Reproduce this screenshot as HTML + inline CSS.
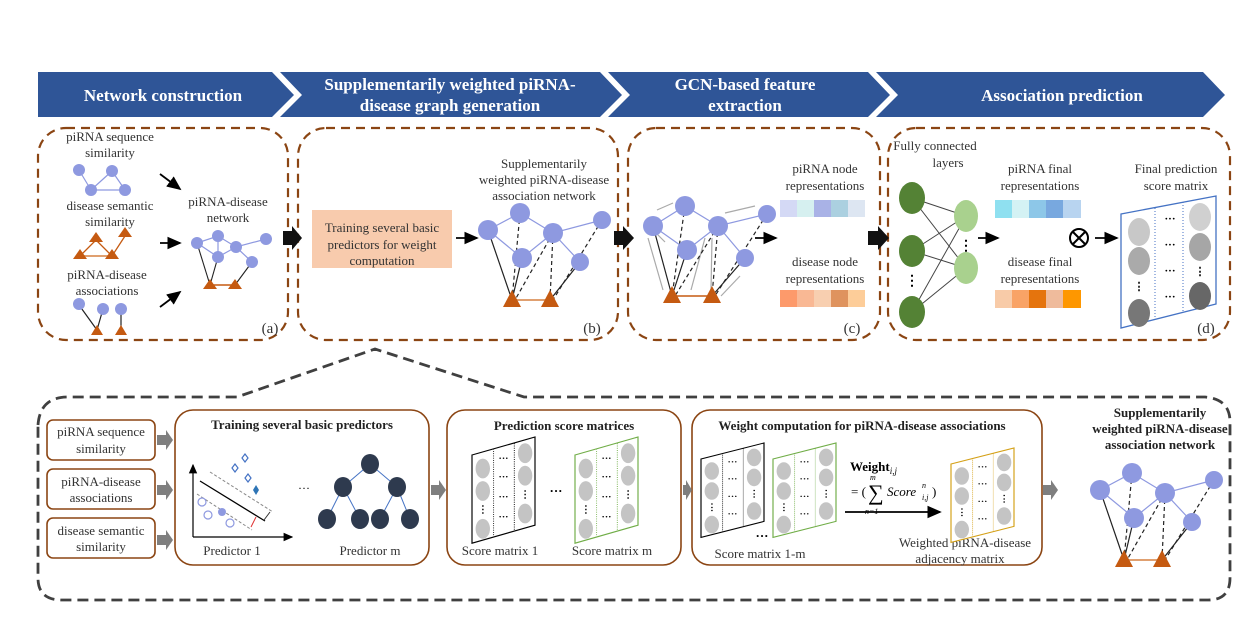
<!DOCTYPE html><html><head><meta charset="utf-8"><style>body{margin:0;background:#fff}svg{display:block}text{font-family:"Liberation Serif",serif}</style></head><body>
<svg width="1250" height="625" viewBox="0 0 1250 625" xmlns="http://www.w3.org/2000/svg">
<defs>
<marker id="ah" markerWidth="8" markerHeight="8" refX="7" refY="4" orient="auto"><path d="M0,0.5 L8,4 L0,7.5z" fill="#000"/></marker>
<g id="mat">
<polygon points="0,20 70,0 70,98 0,118" fill="#fff" stroke="currentColor" stroke-width="1.3"/>
<g stroke="currentColor" stroke-dasharray="1,1.5"><line x1="24" y1="13" x2="24" y2="111"/><line x1="47" y1="7" x2="47" y2="105"/></g>
<g fill="#c4c4c4"><ellipse cx="12" cy="35" rx="8" ry="11"/><ellipse cx="12" cy="60" rx="8" ry="11"/><ellipse cx="12" cy="102" rx="8" ry="11"/><ellipse cx="59" cy="18" rx="8" ry="11"/><ellipse cx="59" cy="43" rx="8" ry="11"/><ellipse cx="59" cy="85" rx="8" ry="11"/></g>
<g font-size="11" font-weight="bold" fill="#000" text-anchor="middle"><text x="12" y="84">⋮</text><text x="59" y="67">⋮</text><text x="35" y="27">···</text><text x="35" y="48">···</text><text x="35" y="70">···</text><text x="35" y="92">···</text></g>
</g>
<g id="net">
<g stroke="#8e99e0" stroke-width="1.2" fill="none"><polyline points="488,230 520,213 553,233 602,220"/><line x1="488" y1="230" x2="522" y2="258"/><line x1="522" y1="258" x2="553" y2="233"/><line x1="553" y1="233" x2="580" y2="262"/></g>
<g stroke="#222" stroke-width="1.2"><line x1="488" y1="230" x2="512" y2="300"/><line x1="522" y1="258" x2="512" y2="300"/><line x1="580" y1="262" x2="550" y2="300"/></g>
<g stroke="#222" stroke-width="1.2" stroke-dasharray="4,3"><line x1="520" y1="213" x2="512" y2="300"/><line x1="553" y1="233" x2="515" y2="300"/><line x1="553" y1="233" x2="550" y2="300"/><line x1="602" y1="220" x2="553" y2="300"/></g>
<line x1="512" y1="300" x2="550" y2="300" stroke="#e0a070" stroke-width="2"/>
<g fill="#8e99e0"><circle cx="488" cy="230" r="10"/><circle cx="520" cy="213" r="10"/><circle cx="553" cy="233" r="10"/><circle cx="602" cy="220" r="9"/><circle cx="522" cy="258" r="10"/><circle cx="580" cy="262" r="9"/></g>
<g fill="#c55a11"><polygon points="512,290 503,307 521,307"/><polygon points="550,290 541,307 559,307"/></g>
</g>
</defs>
<g fill="#2F5597">
<polygon points="38,72 272,72 294,95 272,117 38,117"/>
<polygon points="280,72 600,72 622,95 600,117 280,117 302,95"/>
<polygon points="608,72 868,72 890,95 868,117 608,117 630,95"/>
<polygon points="876,72 1203,72 1225,95 1203,117 876,117 898,95"/>
</g>
<g fill="#fff" font-weight="bold" font-size="17" text-anchor="middle">
<text x="163" y="101">Network construction</text>
<text x="450" y="90">Supplementarily weighted piRNA-</text>
<text x="450" y="111">disease graph generation</text>
<text x="745" y="90">GCN-based feature</text>
<text x="745" y="111">extraction</text>
<text x="1062" y="101">Association prediction</text>
</g>
<g fill="none" stroke="#8B4513" stroke-width="2.2" stroke-dasharray="9,6">
<rect x="38" y="128" width="250" height="212" rx="28"/>
<rect x="298" y="128" width="320" height="212" rx="28"/>
<rect x="628" y="128" width="252" height="212" rx="28"/>
<rect x="888" y="128" width="342" height="212" rx="28"/>
</g>
<g font-size="13" fill="#333" text-anchor="middle">
<text x="110" y="141">piRNA sequence</text><text x="110" y="157">similarity</text>
<text x="110" y="210">disease semantic</text><text x="110" y="226">similarity</text>
<text x="107" y="279">piRNA-disease</text><text x="107" y="295">associations</text>
<text x="228" y="206">piRNA-disease</text><text x="228" y="222">network</text>
<text x="544" y="168">Supplementarily</text><text x="544" y="184">weighted piRNA-disease</text><text x="544" y="200">association network</text>
<text x="825" y="173">piRNA node</text><text x="825" y="190">representations</text>
<text x="825" y="266">disease node</text><text x="825" y="283">representations</text>
<text x="935" y="150">Fully connected</text><text x="948" y="167">layers</text>
<text x="1040" y="173">piRNA final</text><text x="1040" y="190">representations</text>
<text x="1040" y="266">disease final</text><text x="1040" y="283">representations</text>
<text x="1176" y="173">Final prediction</text><text x="1176" y="190">score matrix</text>
<text x="270" y="333" font-size="15">(a)</text><text x="592" y="333" font-size="15">(b)</text>
<text x="852" y="333" font-size="15">(c)</text><text x="1206" y="333" font-size="15">(d)</text>
</g>
<g stroke="#8e99e0" stroke-width="1.2"><line x1="79" y1="170" x2="91" y2="190"/><line x1="91" y1="190" x2="125" y2="190"/><line x1="91" y1="190" x2="112" y2="171"/><line x1="112" y1="171" x2="125" y2="190"/></g>
<g fill="#8e99e0"><circle cx="79" cy="170" r="6"/><circle cx="112" cy="171" r="6"/><circle cx="91" cy="190" r="6"/><circle cx="125" cy="190" r="6"/></g>
<g stroke="#c55a11" stroke-width="1.3"><line x1="80" y1="256" x2="96" y2="240"/><line x1="96" y1="240" x2="112" y2="256"/><line x1="112" y1="256" x2="125" y2="236"/><line x1="80" y1="256" x2="112" y2="256" stroke="#e0a070" stroke-width="2"/></g>
<g fill="#c55a11"><polygon points="96,232 89,242 103,242"/><polygon points="125,227 118,237 132,237"/><polygon points="80,249 73,259 87,259"/><polygon points="112,249 105,259 119,259"/></g>
<g stroke="#222" stroke-width="1.2"><line x1="79" y1="305" x2="97" y2="330"/><line x1="103" y1="309" x2="97" y2="330"/><line x1="121" y1="309" x2="121" y2="330"/></g>
<g fill="#8e99e0"><circle cx="79" cy="304" r="6"/><circle cx="103" cy="309" r="6"/><circle cx="121" cy="309" r="6"/></g>
<g fill="#c55a11"><polygon points="97,325 91,335 103,335"/><polygon points="121,325 115,335 127,335"/></g>
<g stroke="#000" stroke-width="1.8" marker-end="url(#ah)"><line x1="160" y1="174" x2="180" y2="189"/><line x1="160" y1="243" x2="180" y2="243"/><line x1="160" y1="307" x2="180" y2="292"/></g>
<g stroke="#8e99e0" stroke-width="1.2" fill="none"><polyline points="197,243 218,236 236,247 266,239"/><line x1="218" y1="236" x2="218" y2="257"/><line x1="218" y1="257" x2="236" y2="247"/><line x1="236" y1="247" x2="252" y2="262"/><line x1="197" y1="243" x2="218" y2="257"/></g>
<g stroke="#222" stroke-width="1.1"><line x1="197" y1="243" x2="210" y2="285"/><line x1="218" y1="257" x2="210" y2="285"/><line x1="252" y1="262" x2="235" y2="285"/></g>
<line x1="210" y1="285" x2="235" y2="285" stroke="#c55a11" stroke-width="1.5"/>
<g fill="#8e99e0"><circle cx="197" cy="243" r="6"/><circle cx="218" cy="236" r="6"/><circle cx="236" cy="247" r="6"/><circle cx="266" cy="239" r="6"/><circle cx="218" cy="257" r="6"/><circle cx="252" cy="262" r="6"/></g>
<g fill="#c55a11"><polygon points="210,279 203,289 217,289"/><polygon points="235,279 228,289 242,289"/></g>
<g fill="#111"><polygon points="283,231 292,231 292,226 302,238 292,250 292,245 283,245"/><polygon points="614,231 623,231 623,226 634,238 623,250 623,245 614,245"/><polygon points="868,231 878,231 878,226 889,238 878,250 878,245 868,245"/></g>
<rect x="312" y="210" width="140" height="58" fill="#F8CBAD"/>
<g font-size="13" fill="#333" text-anchor="middle"><text x="382" y="232">Training several basic</text><text x="382" y="249">predictors for weight</text><text x="382" y="265">computation</text></g>
<line x1="456" y1="238" x2="477" y2="238" stroke="#000" stroke-width="1.8" marker-end="url(#ah)"/>
<use href="#net"/>
<g transform="translate(165,-2)">
<g stroke="#8e99e0" stroke-width="1.2" fill="none"><polyline points="488,228 520,208 553,228 602,216"/><line x1="488" y1="228" x2="522" y2="252"/><line x1="522" y1="252" x2="553" y2="228"/><line x1="553" y1="228" x2="580" y2="260"/></g>
<g stroke="#aaa" stroke-width="1.2"><line x1="483" y1="240" x2="498" y2="292"/><line x1="540" y1="240" x2="526" y2="292"/><line x1="547" y1="240" x2="546" y2="292"/><line x1="575" y1="278" x2="556" y2="298"/><line x1="508" y1="205" x2="492" y2="212"/><line x1="590" y1="208" x2="560" y2="215"/><line x1="500" y1="244" x2="492" y2="236"/></g>
<g stroke="#222" stroke-width="1.2"><line x1="488" y1="228" x2="507" y2="298"/><line x1="522" y1="252" x2="507" y2="298"/><line x1="580" y1="260" x2="547" y2="298"/></g>
<g stroke="#222" stroke-width="1.2" stroke-dasharray="4,3"><line x1="520" y1="208" x2="507" y2="298"/><line x1="553" y1="228" x2="510" y2="298"/><line x1="553" y1="228" x2="547" y2="298"/><line x1="602" y1="216" x2="550" y2="298"/></g>
<line x1="507" y1="298" x2="547" y2="298" stroke="#c55a11" stroke-width="1.5"/>
<g fill="#8e99e0"><circle cx="488" cy="228" r="10"/><circle cx="520" cy="208" r="10"/><circle cx="553" cy="228" r="10"/><circle cx="602" cy="216" r="9"/><circle cx="522" cy="252" r="10"/><circle cx="580" cy="260" r="9"/></g>
<g fill="#c55a11"><polygon points="507,288 498,305 516,305"/><polygon points="547,288 538,305 556,305"/></g>
</g>
<line x1="755" y1="238" x2="776" y2="238" stroke="#000" stroke-width="1.8" marker-end="url(#ah)"/>
<rect x="780" y="200" width="17" height="17" fill="#d4d9f5"/><rect x="797" y="200" width="17" height="17" fill="#d6f0f0"/><rect x="814" y="200" width="17" height="17" fill="#a9b2e6"/><rect x="831" y="200" width="17" height="17" fill="#abd0e0"/><rect x="848" y="200" width="17" height="17" fill="#dde6f2"/>
<rect x="780" y="290" width="17" height="17" fill="#fd9a6b"/><rect x="797" y="290" width="17" height="17" fill="#f9b894"/><rect x="814" y="290" width="17" height="17" fill="#f8cfb0"/><rect x="831" y="290" width="17" height="17" fill="#df935e"/><rect x="848" y="290" width="17" height="17" fill="#fdcd99"/>
<g stroke="#444" stroke-width="1"><line x1="912" y1="198" x2="966" y2="216"/><line x1="912" y1="198" x2="966" y2="268"/><line x1="912" y1="251" x2="966" y2="216"/><line x1="912" y1="251" x2="966" y2="268"/><line x1="912" y1="312" x2="966" y2="216"/><line x1="912" y1="312" x2="966" y2="268"/></g>
<g fill="#548235"><ellipse cx="912" cy="198" rx="13" ry="16"/><ellipse cx="912" cy="251" rx="13" ry="16"/><ellipse cx="912" cy="312" rx="13" ry="16"/></g>
<g fill="#A9D18E"><ellipse cx="966" cy="216" rx="12" ry="16"/><ellipse cx="966" cy="268" rx="12" ry="16"/></g>
<g font-size="14" font-weight="bold" text-anchor="middle"><text x="912" y="285">⋮</text><text x="966" y="250">⋮</text></g>
<line x1="978" y1="238" x2="998" y2="238" stroke="#000" stroke-width="1.8" marker-end="url(#ah)"/>
<rect x="995" y="200" width="17" height="18" fill="#8fe0f0"/><rect x="1012" y="200" width="17" height="18" fill="#d4f2f4"/><rect x="1029" y="200" width="17" height="18" fill="#8dc7e8"/><rect x="1046" y="200" width="17" height="18" fill="#78a8df"/><rect x="1063" y="200" width="18" height="18" fill="#b8d4f0"/>
<rect x="995" y="290" width="17" height="18" fill="#f8cba8"/><rect x="1012" y="290" width="17" height="18" fill="#f9a366"/><rect x="1029" y="290" width="17" height="18" fill="#e5740d"/><rect x="1046" y="290" width="17" height="18" fill="#efbb9c"/><rect x="1063" y="290" width="18" height="18" fill="#fe9700"/>
<circle cx="1079" cy="238" r="9" fill="none" stroke="#000" stroke-width="2"/><line x1="1073" y1="232" x2="1085" y2="244" stroke="#000" stroke-width="2"/><line x1="1085" y1="232" x2="1073" y2="244" stroke="#000" stroke-width="2"/>
<line x1="1095" y1="238" x2="1117" y2="238" stroke="#000" stroke-width="1.8" marker-end="url(#ah)"/>
<polygon points="1121,214 1216,196 1216,304 1121,328" fill="none" stroke="#4472c4" stroke-width="1.3"/>
<g stroke="#4472c4" stroke-dasharray="1,2"><line x1="1155" y1="208" x2="1155" y2="320"/><line x1="1183" y1="202" x2="1183" y2="312"/></g>
<g><ellipse cx="1139" cy="232" rx="11" ry="14" fill="#c8c8c8"/><ellipse cx="1139" cy="261" rx="11" ry="14" fill="#aaa"/><ellipse cx="1139" cy="313" rx="11" ry="14" fill="#777"/><ellipse cx="1200" cy="217" rx="11" ry="14" fill="#d0d0d0"/><ellipse cx="1200" cy="247" rx="11" ry="14" fill="#a6a6a6"/><ellipse cx="1200" cy="296" rx="11" ry="14" fill="#676767"/></g>
<g font-size="11" font-weight="bold" text-anchor="middle"><text x="1139" y="290">⋮</text><text x="1200" y="275">⋮</text><text x="1170" y="222">···</text><text x="1170" y="248">···</text><text x="1170" y="274">···</text><text x="1170" y="300">···</text></g>
<path d="M38,425 Q40,397 68,397 L237,397 L375,349 L524,397 L1205,397 Q1230,399 1230,422 L1230,578 Q1230,600 1208,600 L62,600 Q38,600 38,578 Z" fill="none" stroke="#404040" stroke-width="2.8" stroke-dasharray="11,6"/>
<g fill="#fff" stroke="#8B4513" stroke-width="1.6"><rect x="47" y="420" width="108" height="40" rx="6"/><rect x="47" y="469" width="108" height="40" rx="6"/><rect x="47" y="518" width="108" height="40" rx="6"/>
<rect x="175" y="410" width="254" height="155" rx="18"/><rect x="447" y="410" width="234" height="155" rx="18"/><rect x="692" y="410" width="350" height="155" rx="18"/></g>
<g font-size="13" fill="#333" text-anchor="middle"><text x="101" y="436">piRNA sequence</text><text x="101" y="453">similarity</text><text x="101" y="486">piRNA-disease</text><text x="101" y="502">associations</text><text x="101" y="535">disease semantic</text><text x="101" y="551">similarity</text>
<text x="232" y="555">Predictor 1</text><text x="370" y="555">Predictor m</text><text x="500" y="555">Score matrix 1</text><text x="612" y="555">Score matrix m</text><text x="760" y="558">Score matrix 1-m</text><text x="965" y="547">Weighted  piRNA-disease</text><text x="960" y="563">adjacency matrix</text></g>
<g font-size="13" font-weight="bold" fill="#222" text-anchor="middle"><text x="302" y="429">Training several basic predictors</text><text x="564" y="430">Prediction score matrices</text><text x="862" y="430">Weight computation for piRNA-disease associations</text><text x="1160" y="417">Supplementarily</text><text x="1160" y="433">weighted piRNA-disease</text><text x="1160" y="449">association network</text></g>
<g fill="#7f7f7f"><polygon points="157,435 166,435 166,430 173,440 166,450 166,445 157,445"/><polygon points="157,485 166,485 166,480 173,490 166,500 166,495 157,495"/><polygon points="157,535 166,535 166,530 173,540 166,550 166,545 157,545"/><polygon points="431,485 439,485 439,480 446,490 439,500 439,495 431,495"/><polygon points="683,485 686,485 686,480 692,490 686,500 686,495 683,495"/><polygon points="1043,485 1051,485 1051,480 1058,490 1051,500 1051,495 1043,495"/></g>
<line x1="193" y1="537" x2="193" y2="465" stroke="#000" stroke-width="1.2" marker-end="url(#ah)"/><line x1="193" y1="537" x2="292" y2="537" stroke="#000" stroke-width="1.2" marker-end="url(#ah)"/>
<line x1="200" y1="481" x2="265" y2="521" stroke="#000" stroke-width="1.3"/>
<g stroke="#888" stroke-dasharray="3,2"><line x1="210" y1="472" x2="273" y2="512"/><line x1="197" y1="494" x2="252" y2="530"/></g>
<line x1="251" y1="527" x2="256" y2="517" stroke="#e03030" stroke-width="1"/><line x1="264" y1="520" x2="270" y2="512" stroke="#333" stroke-width="1"/>
<g fill="none" stroke="#4472c4" stroke-width="1.2"><path d="M232,468 l3,-4 l3,4 l-3,4z"/><path d="M242,458 l3,-4 l3,4 l-3,4z"/><path d="M245,478 l3,-4 l3,4 l-3,4z"/><circle cx="202" cy="502" r="4" stroke="#8e99e0"/><circle cx="208" cy="515" r="4" stroke="#8e99e0"/><circle cx="230" cy="523" r="4" stroke="#8e99e0"/></g>
<path d="M253,490 l3,-5 l3,5 l-3,5z" fill="#2e75b6"/><circle cx="222" cy="512" r="4" fill="#8e99e0"/>
<text x="304" y="492" font-size="12" text-anchor="middle">···</text>
<g stroke="#4472c4" stroke-width="1"><line x1="370" y1="464" x2="343" y2="487"/><line x1="370" y1="464" x2="397" y2="487"/><line x1="343" y1="487" x2="327" y2="519"/><line x1="343" y1="487" x2="360" y2="519"/><line x1="397" y1="487" x2="380" y2="519"/><line x1="397" y1="487" x2="410" y2="519"/></g>
<g fill="#2e3a4e"><ellipse cx="370" cy="464" rx="9" ry="10"/><ellipse cx="343" cy="487" rx="9" ry="10"/><ellipse cx="397" cy="487" rx="9" ry="10"/><ellipse cx="327" cy="519" rx="9" ry="10"/><ellipse cx="360" cy="519" rx="9" ry="10"/><ellipse cx="380" cy="519" rx="9" ry="10"/><ellipse cx="410" cy="519" rx="9" ry="10"/></g>
<use href="#mat" transform="translate(472,437) scale(0.9,0.9)" color="#000"/>
<use href="#mat" transform="translate(575,437) scale(0.9,0.9)" color="#70AD47"/>
<text x="556" y="495" font-size="13" font-weight="bold" text-anchor="middle">···</text>
<use href="#mat" transform="translate(701,443) scale(0.9,0.8)" color="#000"/>
<use href="#mat" transform="translate(773,443) scale(0.9,0.8)" color="#70AD47"/>
<text x="762" y="540" font-size="13" font-weight="bold" text-anchor="middle">···</text>
<use href="#mat" transform="translate(951,448) scale(0.9,0.8)" color="#D4A017"/>
<g font-size="13"><text x="850" y="471" font-weight="bold">Weight<tspan font-size="9" font-style="italic" font-weight="normal" dy="3">i,j</tspan></text>
<text x="851" y="496">= (</text><text x="868" y="500" font-size="22">∑</text><text x="870" y="480" font-size="8" font-style="italic">m</text><text x="865" y="514" font-size="8" font-style="italic">n=1</text><text x="887" y="496" font-style="italic">Score</text><text x="922" y="488" font-size="8" font-style="italic">n</text><text x="922" y="500" font-size="8" font-style="italic">i,j</text><text x="932" y="496">)</text></g>
<line x1="845" y1="512" x2="940" y2="512" stroke="#000" stroke-width="1.8" marker-end="url(#ah)"/>
<use href="#net" x="612" y="260"/>
</svg>
</body></html>
